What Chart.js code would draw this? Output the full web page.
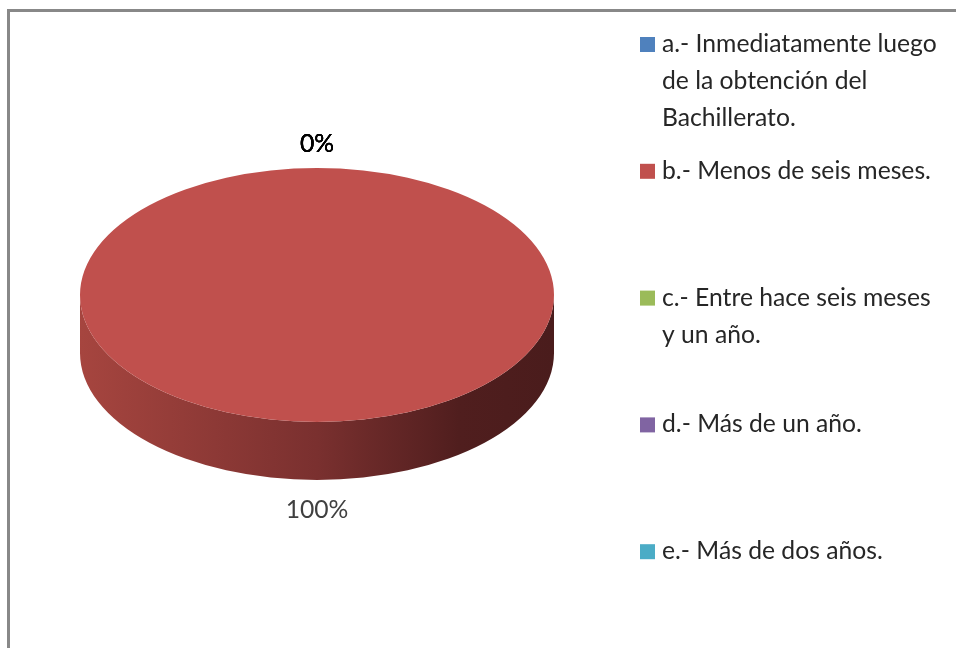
<!DOCTYPE html>
<html>
<head>
<meta charset="utf-8">
<script src="https://cdn.jsdelivr.net/npm/chart.js@4/dist/chart.umd.min.js"></script>
<style>
  html, body { margin: 0; padding: 0; background: #fff; overflow: hidden; }
  #frame {
    position: absolute; left: 7px; top: 9px; width: 1200px; height: 900px;
    border: 3px solid #888; box-sizing: border-box;
  }
  #chart { position: absolute; left: 0; top: 0; }
</style>
</head>
<body>
<div id="frame"></div>
<canvas id="chart" width="956" height="648"></canvas>
<script>
// datos del gráfico
const categories = [
  ["a.- Inmediatamente luego", "de la obtención del", "Bachillerato."],
  ["b.- Menos de seis meses."],
  ["c.- Entre hace seis meses", "y un año."],
  ["d.- Más de un año."],
  ["e.- Más de dos años."]
];
const percentages = [0, 100, 0, 0, 0];
const colors = ["#4F81BD", "#C0504D", "#9BBB59", "#8064A2", "#4BACC6"];

const TILT = 0.536;   // aplastamiento de la elipse
const DEPTH = 58;     // grosor del "pastel"
const FONT = "24.7px Lato";

// lado del pastel + vista inclinada
const pie3d = {
  id: "pie3d",
  beforeDatasetsDraw(chart) {
    const ctx = chart.ctx;
    const meta = chart.getDatasetMeta(0);
    const first = meta.data[0];
    const cx = first.x, cy = first.y;

    meta.data.forEach(arc => {
      const { x, y, outerRadius: r, startAngle, endAngle } =
        arc.getProps(["x", "y", "outerRadius", "startAngle", "endAngle"], true);
      if (endAngle - startAngle <= 0) return;
      for (let n = -1; n <= 2; n++) {
        const a0 = Math.max(startAngle, 2 * Math.PI * n);
        const a1 = Math.min(endAngle, Math.PI + 2 * Math.PI * n);
        if (a1 <= a0) continue;
        const grad = ctx.createLinearGradient(x - r, 0, x + r, 0);
        grad.addColorStop(0, "#A6453F");
        grad.addColorStop(0.5, "#7A302F");
        grad.addColorStop(0.8, "#501E1E");
        grad.addColorStop(1, "#4A1C1C");
        ctx.beginPath();
        ctx.ellipse(x, y, r, r * TILT, 0, a0, a1);
        ctx.ellipse(x, y + DEPTH, r, r * TILT, 0, a1, a0, true);
        ctx.closePath();
        ctx.fillStyle = grad;
        ctx.fill();
      }
    });

    ctx.save();
    ctx.translate(cx, cy);
    ctx.scale(1, TILT);
    ctx.translate(-cx, -cy);
  },
  afterDatasetsDraw(chart) {
    const ctx = chart.ctx;
    ctx.restore();

    // etiquetas de porcentaje
    const meta = chart.getDatasetMeta(0);
    const values = chart.data.datasets[0].data;
    const total = values.reduce((s, v) => s + v, 0);
    ctx.save();
    ctx.font = FONT;
    ctx.textAlign = "center";
    ctx.textBaseline = "alphabetic";
    meta.data.forEach((arc, i) => {
      const { x, y, outerRadius: r, startAngle, endAngle } =
        arc.getProps(["x", "y", "outerRadius", "startAngle", "endAngle"], true);
      const mid = (startAngle + endAngle) / 2;
      const px = x + Math.cos(mid) * r;
      let py = y + Math.sin(mid) * r * TILT;
      if (Math.sin(mid) > 0.01) {
        py += DEPTH + 38;
        ctx.fillStyle = "#404040";
      } else {
        py -= 16;
        ctx.fillStyle = "#000";
      }
      ctx.fillText(Math.round(values[i] / total * 100) + "%", px, py);
    });
    ctx.restore();
  },
  afterDraw(chart) {
    // leyenda a la derecha
    const ctx = chart.ctx;
    const labels = chart.data.labels;
    const bg = chart.data.datasets[0].backgroundColor;
    ctx.save();
    ctx.font = FONT;
    ctx.textBaseline = "alphabetic";
    labels.forEach((lines, i) => {
      const base = 52 + i * 126.8;
      ctx.fillStyle = bg[i];
      ctx.fillRect(640, base - 15, 15, 15);
      ctx.fillStyle = "#262626";
      lines.forEach((t, j) => ctx.fillText(t, 662, base + j * 37));
    });
    ctx.restore();
  }
};

new Chart(document.getElementById("chart").getContext("2d"), {
  type: "pie",
  data: {
    labels: categories,
    datasets: [{
      data: percentages,
      backgroundColor: colors,
      borderWidth: 0
    }]
  },
  options: {
    responsive: false,
    animation: false,
    layout: { padding: { left: 80, right: 402, top: 58, bottom: 116 } },
    plugins: {
      legend: { display: false },
      tooltip: { enabled: false }
    }
  },
  plugins: [pie3d]
});
</script>
</body>
</html>
